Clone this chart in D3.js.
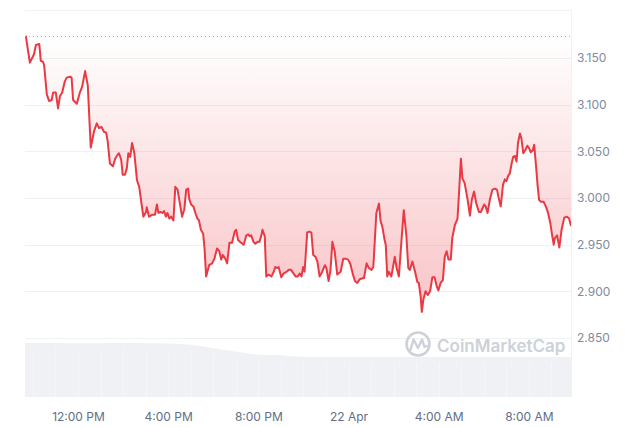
<!DOCTYPE html>
<html><head><meta charset="utf-8">
<script src="https://cdn.jsdelivr.net/npm/d3@7"></script>
<style>html,body{margin:0;padding:0;background:#fff;}svg{display:block;font-family:Inter,"Noto Sans",sans-serif;}</style>
</head><body>
<svg id="chart" width="640" height="427"></svg>
<script>
// minutes after 21 Apr 00:00
const times = [581,592,603,608,617,621,627,630,637,643,650,654,661,667,672,678,685,690,699,703,707,717,725,731,739,746,754,763,770,776,783,789,795,799,805,813,819,825,829,835,839,845,850,854,859,864,870,877,883,890,894,901,903,909,917,925,930,934,939,945,949,954,958,963,968,974,979,985,997,1003,1008,1013,1016,1021,1027,1034,1038,1042,1047,1053,1057,1061,1069,1077,1083,1090,1096,1101,1105,1112,1117,1123,1130,1137,1141,1146,1154,1161,1168,1173,1177,1181,1187,1192,1198,1203,1208,1211,1217,1221,1227,1235,1241,1245,1250,1254,1261,1267,1275,1281,1287,1294,1299,1305,1310,1315,1319,1323,1330,1336,1341,1346,1352,1357,1363,1370,1377,1381,1387,1392,1397,1403,1410,1419,1426,1432,1439,1445,1451,1457,1463,1470,1477,1481,1488,1494,1501,1506,1514,1521,1525,1530,1536,1539,1543,1547,1554,1563,1568,1574,1581,1587,1594,1599,1603,1610,1617,1623,1627,1632,1635,1639,1645,1651,1657,1663,1669,1675,1679,1685,1691,1696,1701,1706,1712,1716,1723,1730,1734,1739,1743,1749,1757,1763,1768,1774,1780,1787,1792,1801,1805,1810,1816,1823,1829,1835,1839,1845,1851,1856,1860,1865,1869,1874,1878,1883,1887,1891,1896,1900,1905,1910,1916,1921,1925,1930,1934,1939,1943,1947,1952,1959,1965,1971,1977,1981,1986,1989,1995,2001,2007,2014,2021,2027,2032];
const prices = [3.174,3.145,3.154,3.164,3.165,3.147,3.146,3.142,3.111,3.104,3.105,3.113,3.113,3.096,3.109,3.113,3.125,3.129,3.130,3.129,3.105,3.101,3.113,3.119,3.136,3.121,3.054,3.072,3.080,3.075,3.076,3.071,3.070,3.061,3.037,3.034,3.042,3.046,3.048,3.041,3.025,3.025,3.032,3.048,3.044,3.059,3.048,3.019,3.012,2.991,2.980,2.985,2.990,2.980,2.982,2.982,2.993,2.984,2.985,2.984,2.986,2.980,2.984,2.978,2.980,2.976,3.012,3.009,2.980,2.988,3.009,3.010,2.999,2.993,2.991,2.982,2.978,2.976,2.966,2.962,2.945,2.916,2.928,2.930,2.935,2.946,2.943,2.934,2.939,2.935,2.930,2.952,2.952,2.964,2.966,2.955,2.952,2.950,2.960,2.961,2.959,2.960,2.953,2.951,2.953,2.953,2.960,2.966,2.959,2.916,2.918,2.916,2.921,2.926,2.925,2.926,2.915,2.919,2.921,2.923,2.923,2.919,2.916,2.916,2.919,2.916,2.926,2.921,2.963,2.964,2.963,2.939,2.937,2.932,2.916,2.921,2.928,2.925,2.911,2.923,2.953,2.943,2.918,2.921,2.935,2.935,2.934,2.929,2.919,2.911,2.909,2.913,2.914,2.914,2.930,2.925,2.923,2.926,2.984,2.994,2.976,2.969,2.955,2.950,2.916,2.921,2.916,2.937,2.925,2.916,2.955,2.987,2.959,2.925,2.923,2.932,2.921,2.910,2.909,2.894,2.878,2.891,2.900,2.896,2.900,2.915,2.915,2.905,2.901,2.909,2.912,2.937,2.943,2.934,2.934,2.957,2.971,2.978,3.005,3.042,3.021,3.016,2.998,2.981,2.998,3.007,2.994,2.985,2.985,2.993,2.991,2.984,2.998,3.009,3.010,3.009,3.001,2.991,3.014,3.020,3.018,3.024,3.026,3.037,3.044,3.045,3.039,3.059,3.069,3.064,3.048,3.051,3.056,3.053,3.049,3.051,3.057,3.034,3.014,2.998,2.996,2.996,2.991,2.984,2.973,2.962,2.950,2.957,2.960,2.947,2.966,2.979,2.980,2.978,2.970];

const volTimes = [540,600,660,720,780,840,900,960,1020,1080,1140,1200,1260,1320,1380,1440,1500,1560,1620,1680,1740,1800,1860,1920,1980,2040];
const volumes  = [100,100,99.5,99,99,100,99,98.5,96,90,84,78,77,74,73.5,73.5,73.5,73.5,73.5,73.5,73.5,73.5,73.5,73.5,73.5,73.5];

const yTicks = [2.850,2.900,2.950,3.000,3.050,3.100,3.150];
const xTickMinutes = [720,960,1200,1440,1680,1920];

const base = new Date(2024,3,21,0,0,0).getTime();
const toDate = m => new Date(base + m*60000);

const L = 25, R = 571, T = 10, B = 397;
const svg = d3.select("#chart");

const x = d3.scaleTime().domain([toDate(579), toDate(2032)]).range([L, R]);
const y = d3.scaleLinear().domain([2.85, 3.15]).range([338, 58]);
const yv = d3.scaleLinear().domain([0, 100]).range([B, 342.7]);

const defs = svg.append("defs");
defs.append("clipPath").attr("id","clip").append("rect").attr("x",L).attr("y",T).attr("width",R-L).attr("height",B-T);
const baseline = prices[0];
const minP = d3.min(prices);
const grad = defs.append("linearGradient").attr("id","g").attr("gradientUnits","userSpaceOnUse")
  .attr("x1",0).attr("x2",0).attr("y1",y(baseline)).attr("y2",y(minP));
grad.append("stop").attr("offset",0).attr("stop-color","#ea3943").attr("stop-opacity",0.0);
grad.append("stop").attr("offset",1).attr("stop-color","#ea3943").attr("stop-opacity",0.3);

// frame
svg.append("line").attr("x1",L).attr("x2",R).attr("y1",T+0.5).attr("y2",T+0.5).attr("stroke","#f1f2f4");
svg.append("line").attr("x1",R+0.5).attr("x2",R+0.5).attr("y1",T).attr("y2",B).attr("stroke","#f1f2f4");

// grid
svg.append("g").selectAll("line").data(yTicks).join("line")
  .attr("x1",L).attr("x2",R).attr("y1",d=>Math.round(y(d))+0.5).attr("y2",d=>Math.round(y(d))+0.5)
  .attr("stroke","#f0f1f3");

const g = svg.append("g").attr("clip-path","url(#clip)");

// volume
const data = times.map((t,i)=>({t:toDate(t), v:prices[i]}));
const vdata = volTimes.map((t,i)=>({t:toDate(t), v:volumes[i]}));
g.append("path").datum(vdata)
  .attr("d", d3.area().curve(d3.curveMonotoneX).x(d=>x(d.t)).y0(yv(0)).y1(d=>yv(d.v)))
  .attr("fill","#eff1f4");
g.append("g").selectAll("line").data(vdata).join("line")
  .attr("x1",d=>Math.round(x(d.t))+0.5).attr("x2",d=>Math.round(x(d.t))+0.5)
  .attr("y1",d=>yv(d.v)+6).attr("y2",yv(0))
  .attr("stroke","#f5f6f8").attr("stroke-width",1);

// area between price and baseline
g.append("path").datum(data)
  .attr("d", d3.area().x(d=>x(d.t)).y0(y(baseline)).y1(d=>y(d.v)))
  .attr("fill","url(#g)");

// dotted baseline
svg.append("line").attr("x1",L).attr("x2",R).attr("y1",Math.round(y(baseline))+0.5).attr("y2",Math.round(y(baseline))+0.5)
  .attr("stroke","#a8adb6").attr("stroke-width",1).attr("stroke-dasharray","1,3");

// price line
g.append("path").datum(data)
  .attr("d", d3.line().x(d=>x(d.t)).y(d=>y(d.v)))
  .attr("fill","none").attr("stroke","#ea3943").attr("stroke-width",2).attr("stroke-linejoin","round");

// watermark
const wm = svg.append("g").attr("fill","none").attr("stroke","#cdd1d8");
wm.append("circle").attr("cx",418).attr("cy",344).attr("r",11.5).attr("stroke-width",2.6);
wm.append("path").attr("d","M410.5,350 L413.5,339.5 L418,348 L422,339.5 L424.5,347 L427,346")
  .attr("stroke-width",2.4).attr("stroke-linejoin","round").attr("stroke-linecap","round");
svg.append("text").attr("x",437).attr("y",352).attr("fill","#cdd1d8")
  .attr("font-size",17).attr("font-weight",600).text("CoinMarketCap");

// axes
const yAxis = svg.append("g").attr("transform",`translate(${R},0)`)
  .call(d3.axisRight(y).tickValues(yTicks).tickSize(0).tickPadding(6).tickFormat(d3.format(".3f")));
yAxis.select(".domain").remove();
yAxis.selectAll("text").attr("fill","#808a9d").attr("font-size",12).attr("font-family","Inter, sans-serif");

const fmt = d => (d.getHours()===0 ? d3.timeFormat("%-d %b")(d) : d3.timeFormat("%-I:%M %p")(d));
const xAxis = svg.append("g").attr("transform",`translate(0,${B})`)
  .call(d3.axisBottom(x).tickValues(xTickMinutes.map(toDate)).tickSize(0).tickPadding(15).tickFormat(fmt));
xAxis.select(".domain").remove();
xAxis.selectAll("text").attr("fill","#616e85").attr("font-size",12).attr("font-family","Inter, sans-serif");
</script>
</body></html>
